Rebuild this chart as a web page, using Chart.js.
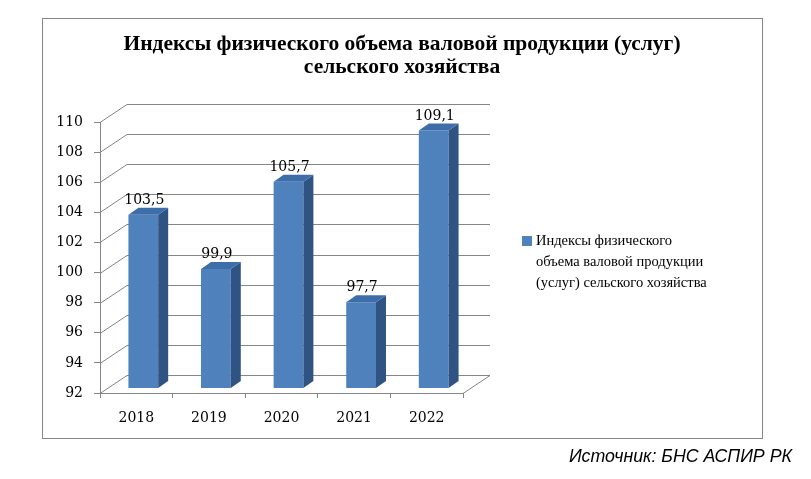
<!DOCTYPE html>
<html>
<head>
<meta charset="utf-8">
<script src="https://cdn.jsdelivr.net/npm/chart.js@4"></script>
<style>
  html, body { margin: 0; padding: 0; background: #fff; }
  #wrap { position: relative; width: 811px; height: 479px; }
</style>
</head>
<body>
<div id="wrap"><canvas id="chart" width="811" height="479"></canvas></div>
<script>
// data
var years = ['2018', '2019', '2020', '2021', '2022'];
var indexValues = [103.5, 99.9, 105.7, 97.7, 109.1];
var seriesName = 'Индексы физического объема валовой продукции (услуг) сельского хозяйства';
var legendLines = ['Индексы физического', 'объема валовой продукции', '(услуг) сельского хозяйства'];
var titleLines = ['Индексы физического объема валовой продукции (услуг)', 'сельского хозяйства'];
var sourceText = 'Источник: БНС АСПИР РК';

var gridColor = '#868686';
var wallDx = 27, wallDy = -18;   // depth of the back wall
var barShiftX = 7, barShiftY = -5; // bars sit in the middle of the depth
var barDx = 10, barDy = -7;      // bar thickness

function fmt(v) { return v.toFixed(1).replace('.', ','); }

var threeD = {
  id: 'threeD',
  beforeDraw: function(chart) {
    var ctx = chart.ctx;
    ctx.save();
    ctx.strokeStyle = gridColor;
    ctx.lineWidth = 1;
    ctx.strokeRect(42.5, 18.5, 720, 420);

    // title
    ctx.fillStyle = '#000';
    ctx.font = 'bold 21.5px "Liberation Serif"';
    ctx.textAlign = 'center';
    ctx.textBaseline = 'alphabetic';
    ctx.fillText(titleLines[0], 402, 50);
    ctx.fillText(titleLines[1], 402, 73);

    // source
    ctx.font = 'italic 17.8px "Liberation Sans"';
    ctx.textAlign = 'right';
    ctx.fillText(sourceText, 792, 462);

    // walls
    var y = chart.scales.y;
    var L = chart.chartArea.left, R = chart.chartArea.right;
    ctx.beginPath();
    y.ticks.forEach(function(t) {
      var py = Math.round(y.getPixelForValue(t.value)) + 0.5;
      ctx.moveTo(L, py);
      ctx.lineTo(L + wallDx, py + wallDy);
      ctx.lineTo(R + wallDx, py + wallDy);
    });
    var by = Math.round(y.getPixelForValue(y.min)) + 0.5;
    ctx.moveTo(R, by);
    ctx.lineTo(R + wallDx, by + wallDy);
    ctx.stroke();

    // legend
    var ds = chart.data.datasets[0];
    ctx.fillStyle = ds.backgroundColor;
    ctx.fillRect(522, 236, 10, 10);
    ctx.fillStyle = '#000';
    ctx.font = '14.5px "Liberation Serif"';
    ctx.textAlign = 'left';
    ctx.textBaseline = 'middle';
    legendLines.forEach(function(s, i) {
      ctx.fillText(s, 536, 241 + i * 21);
    });
    ctx.restore();
  },
  beforeDatasetsDraw: function(chart) {
    chart.ctx.save();
    chart.ctx.translate(barShiftX, barShiftY);
  },
  afterDatasetsDraw: function(chart) {
    var ctx = chart.ctx;
    var y = chart.scales.y;
    var floor = y.getPixelForValue(y.min);
    var meta = chart.getDatasetMeta(0);
    meta.data.forEach(function(bar, i) {
      var p = bar.getProps(['x', 'y', 'base', 'width'], true);
      var base = Math.min(p.base, floor);
      var l = p.x - p.width / 2, r = p.x + p.width / 2;
      ctx.fillStyle = '#2F5382';
      ctx.beginPath();
      ctx.moveTo(r, p.y);
      ctx.lineTo(r + barDx, p.y + barDy);
      ctx.lineTo(r + barDx, base + barDy);
      ctx.lineTo(r, base);
      ctx.closePath();
      ctx.fill();
      ctx.fillStyle = '#3E6EAA';
      ctx.beginPath();
      ctx.moveTo(l, p.y);
      ctx.lineTo(l + barDx, p.y + barDy);
      ctx.lineTo(r + barDx, p.y + barDy);
      ctx.lineTo(r, p.y);
      ctx.closePath();
      ctx.fill();

      ctx.fillStyle = '#000';
      ctx.font = '14px "DejaVu Serif"';
      ctx.textAlign = 'center';
      ctx.textBaseline = 'alphabetic';
      ctx.fillText(fmt(chart.data.datasets[0].data[i]), p.x + 1, p.y + barDy - 4);
    });
    ctx.restore();
  }
};

new Chart(document.getElementById('chart').getContext('2d'), {
  type: 'bar',
  data: {
    labels: years,
    datasets: [{
      label: seriesName,
      data: indexValues,
      backgroundColor: '#4F81BD',
      borderWidth: 0,
      barPercentage: 0.41,
      categoryPercentage: 1
    }]
  },
  options: {
    responsive: false,
    animation: false,
    layout: { padding: { left: 0, right: 348, top: 122, bottom: 0 } },
    plugins: {
      legend: { display: false },
      tooltip: { enabled: false }
    },
    scales: {
      x: {
        afterFit: function(s) { s.height = 86; },
        grid: { drawOnChartArea: false, color: gridColor, tickLength: 5 },
        border: { color: gridColor },
        ticks: { color: '#000', padding: 12, font: { family: 'DejaVu Serif', size: 14 } }
      },
      y: {
        min: 92,
        max: 110,
        afterFit: function(s) { s.width = 100; },
        grid: { drawOnChartArea: false, color: gridColor, tickLength: 6 },
        border: { color: gridColor },
        ticks: { stepSize: 2, color: '#000', padding: 11, font: { family: 'DejaVu Serif', size: 14 } }
      }
    }
  },
  plugins: [threeD]
});
</script>
</body>
</html>
